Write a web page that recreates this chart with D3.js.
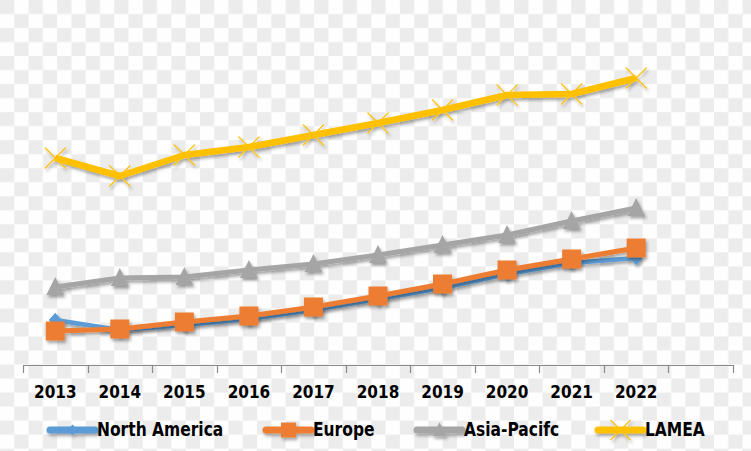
<!DOCTYPE html>
<html><head><meta charset="utf-8">
<script src="https://cdn.jsdelivr.net/npm/d3@7"></script>
<style>html,body{margin:0;padding:0;background:#fff;overflow:hidden}</style>
</head><body>
<svg id="c" width="751" height="451"></svg>
<script>
const categories = ["2013","2014","2015","2016","2017","2018","2019","2020","2021","2022",""];
const northAmerica = [45,35,40,46,55,66,77,91,102,107];
const europe      = [34,36,43,49,58,69,81,95,106,117];
const asiaPacific = [78,87,88,95,101,110,120,130,144,157];
const lamea       = [207,189,210,218,230,242,255,270,271,287];
const seriesNames = ["North America","Europe","Asia-Pacifc","LAMEA"];
const colors = ["#5b9bd5","#ed7d31","#a5a5a5","#ffc000"];

const W=751,H=451;
const svg=d3.select("#c");
const defs=svg.append("defs");
const pat=defs.append("pattern").attr("id","chk").attr("patternUnits","userSpaceOnUse")
  .attr("width",28.56).attr("height",28.04);
pat.append("rect").attr("width",28.56).attr("height",28.04).attr("fill","#fefefe");
pat.append("rect").attr("width",14.28).attr("height",14.02).attr("fill","#ececec");
pat.append("rect").attr("x",14.28).attr("y",14.02).attr("width",14.28).attr("height",14.02).attr("fill","#ececec");
svg.append("rect").attr("width",W).attr("height",H).attr("fill","url(#chk)");

const f=defs.append("filter").attr("id","sh").attr("x","-20%").attr("y","-20%").attr("width","140%").attr("height","160%");
f.append("feDropShadow").attr("dx",1.5).attr("dy",2.5).attr("stdDeviation",1.6)
  .attr("flood-color","#000").attr("flood-opacity",0.35);

const x=d3.scaleBand().domain(categories).range([23,733]);
const y=d3.scaleLinear().domain([0,350]).range([365,15]);
const cx=c=>x(c)+x.bandwidth()/2;

// axis
const ax=svg.append("g");
ax.append("line").attr("x1",x.range()[0]).attr("x2",x.range()[1]).attr("y1",365.5).attr("y2",365.5)
  .attr("stroke","#8a8a8a").attr("stroke-width",1.2);
const bounds=categories.map(c=>x(c)).concat([x.range()[1]]);
ax.selectAll("line.t").data(bounds).join("line").attr("class","t")
  .attr("x1",d=>Math.round(d)+0.5).attr("x2",d=>Math.round(d)+0.5).attr("y1",365).attr("y2",373)
  .attr("stroke","#8a8a8a").attr("stroke-width",1.2);
ax.selectAll("g.lab").data(categories.filter(c=>c)).join("g").attr("class","lab")
  .attr("transform",c=>`translate(${cx(c)},398) scale(1,1.2)`)
  .append("text").attr("text-anchor","middle").attr("font-family","DejaVu Sans")
  .attr("font-weight","bold").attr("font-size",15.3).attr("fill","#000").text(c=>c);

// markers
function marker(g,type,color,s){
  if(type==="diamond"){
    g.append("path").attr("d",`M0,${-s*0.55}L${s*0.5},0L0,${s*0.55}L${-s*0.5},0Z`).attr("fill",color);
  } else if(type==="square"){
    g.append("rect").attr("x",-s/2).attr("y",-s/2).attr("width",s).attr("height",s).attr("fill",color);
  } else if(type==="triangle"){
    g.append("path").attr("d",`M0,${-s*0.55}L${s*0.5},${s*0.45}L${-s*0.5},${s*0.45}Z`).attr("fill",color);
  } else {
    const h=s/2;
    g.append("path").attr("d",`M${-h},${-h}L${h},${h}M${-h},${h}L${h},${-h}`)
      .attr("stroke",color).attr("stroke-width",1.1).attr("fill","none");
  }
}
const data=[northAmerica,europe,asiaPacific,lamea];
const types=["diamond","square","triangle","x"];
const msize=[13,19,18,21];
const lw=[4.5,5,5,6.5];
const line=d3.line().x((d,i)=>cx(categories[i])).y(d=>y(d));
data.forEach((vals,k)=>{
  const g=svg.append("g").attr("filter","url(#sh)");
  g.append("path").datum(vals).attr("d",line).attr("fill","none").attr("stroke",colors[k])
    .attr("stroke-width",lw[k]).attr("stroke-linejoin","round");
  vals.forEach((v,i)=>{
    const m=g.append("g").attr("transform",`translate(${cx(categories[i])},${y(v)})`);
    marker(m,types[k],colors[k],msize[k]);
  });
});

// legend
const legX=[50,266,417,598];
const legMs=[10,15,14,20];
seriesNames.forEach((n,k)=>{
  const g=svg.append("g").attr("transform",`translate(${legX[k]},430)`);
  const gg=g.append("g").attr("filter","url(#sh)");
  gg.append("line").attr("x1",0).attr("x2",45).attr("stroke",colors[k]).attr("stroke-width",7)
    .attr("stroke-linecap","round");
  const m=gg.append("g").attr("transform","translate(22.5,0)");
  marker(m,types[k],colors[k],legMs[k]);
  g.append("g").attr("transform","translate(47,6) scale(1,1.2)").append("text")
    .attr("font-family","DejaVu Sans").attr("font-weight","bold").attr("font-size",15.5)
    .attr("fill","#000").text(n);
});
</script>
</body></html>
